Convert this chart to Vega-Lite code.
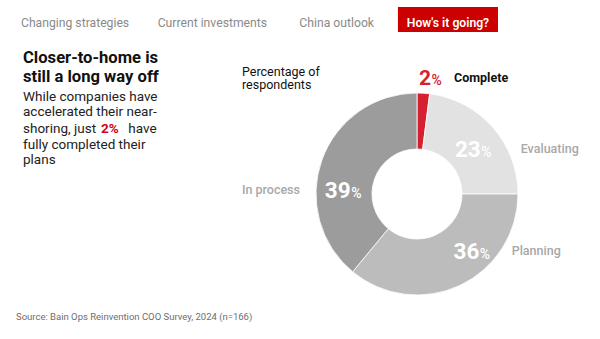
{
  "$schema": "https://vega.github.io/schema/vega-lite/v6.json",
  "background": "white",
  "padding": {"left": 0, "top": 7, "right": 0, "bottom": 0},
  "bounds": "flush",
  "spacing": 8,
  "config": {
    "view": {"stroke": null},
    "font": "Roboto",
    "text": {"font": "Roboto"},
    "title": {"font": "Roboto", "subtitleFont": "Roboto"}
  },
  "datasets": {
    "survey": [
      {"status": "Complete", "pct": 2},
      {"status": "Evaluating", "pct": 23},
      {"status": "Planning", "pct": 36},
      {"status": "In process", "pct": 39}
    ],
    "tabs": [
      {"tab": "Changing strategies", "active": false},
      {"tab": "Current investments", "active": false},
      {"tab": "China outlook", "active": false},
      {"tab": "How's it going?", "active": true}
    ]
  },
  "title": {
    "text": "Source: Bain Ops Reinvention COO Survey, 2024 (n=166)",
    "orient": "bottom", "anchor": "start", "frame": "bounds",
    "fontSize": 9.5, "fontWeight": "normal", "color": "#6e6e6e",
    "offset": 12, "dx": 16
  },
  "vconcat": [
    {
      "width": 600, "height": 25,
      "data": {"name": "tabs"},
      "encoding": {
        "x": {"field": "tab", "type": "nominal", "axis": null,
              "scale": {"type": "band", "domain": ["Changing strategies", "Current investments", "China outlook", "How's it going?"],
                        "paddingInner": 0.195, "paddingOuter": 0.511, "align": 0.197}}
      },
      "layer": [
        {"transform": [{"filter": "datum.active"}], "mark": {"type": "rect", "color": "#cc0000"}},
        {"transform": [{"filter": "datum.tab === 'Changing strategies'"}], "mark": {"type": "text", "fontSize": 12.2, "color": "#8a8a8a", "baseline": "middle", "dy": 3}, "encoding": {"text": {"field": "tab"}}},
        {"transform": [{"filter": "!datum.active && datum.tab !== 'Changing strategies'"}], "mark": {"type": "text", "fontSize": 12.2, "color": "#8a8a8a", "baseline": "middle", "dy": 3, "dx": 13}, "encoding": {"text": {"field": "tab"}}},
        {"transform": [{"filter": "datum.active"}], "mark": {"type": "text", "fontSize": 12.2, "fontWeight": 600, "color": "white", "baseline": "middle", "dy": 3}, "encoding": {"text": {"field": "tab"}}}
      ]
    },
    {
      "spacing": 0,
      "bounds": "flush",
      "hconcat": [
        {
          "width": 242, "height": 260,
          "title": {
            "text": ["Closer-to-home is", "still a long way off"],
            "subtitle": ["While companies have", "accelerated their near-"],
            "anchor": "start", "frame": "group", "orient": "top",
            "fontSize": 16.6, "fontWeight": "bold", "color": "#111111", "lineHeight": 19,
            "subtitleFontSize": 13.5, "subtitleColor": "#222222", "subtitleLineHeight": 15.6, "subtitlePadding": 4,
            "dx": 23, "offset": -79
          },
          "data": {"name": "survey"},
          "transform": [{"filter": "datum.status === 'Complete'"}],
          "layer": [
            {"mark": {"type": "text", "fontSize": 13.5, "color": "#222222", "align": "left", "baseline": "alphabetic", "dx": -98, "dy": -37},
             "encoding": {"text": {"value": "shoring, just"}}},
            {"mark": {"type": "text", "fontSize": 13.5, "fontWeight": "bold", "color": "#d0021b", "align": "left", "baseline": "alphabetic", "dx": -20, "dy": -37},
             "encoding": {"text": {"value": "2%"}}},
            {"mark": {"type": "text", "fontSize": 13.5, "color": "#222222", "align": "left", "baseline": "alphabetic", "dx": 7.3, "dy": -37},
             "encoding": {"text": {"value": "have"}}},
            {"mark": {"type": "text", "fontSize": 13.5, "color": "#222222", "align": "left", "baseline": "alphabetic", "lineHeight": 15.6, "dx": -98, "dy": -21.5},
             "encoding": {"text": {"value": ["fully completed their", "plans"]}}}
          ]
        },
        {
          "spacing": 0,
          "bounds": "flush",
          "vconcat": [
            {"width": 350, "height": 48, "data": {"values": []}, "mark": "text", "encoding": {}},
            {
              "width": 350, "height": 212,
              "title": {"text": ["Percentage of", "respondents"], "anchor": "start", "frame": "group", "fontSize": 12.5, "fontWeight": "normal", "color": "#111111", "lineHeight": 13, "offset": -23},
              "data": {"name": "survey"},
              "encoding": {
                "theta": {"field": "pct", "type": "quantitative", "stack": true},
                "order": {"field": "pct", "type": "quantitative", "sort": "ascending"}
              },
              "layer": [
                {"mark": {"type": "arc", "radius": 101, "innerRadius": 45, "stroke": "white", "strokeWidth": 0.8},
                 "encoding": {"color": {"field": "status", "type": "nominal", "legend": null,
                   "scale": {"domain": ["Complete", "Evaluating", "Planning", "In process"], "range": ["#d42030", "#e2e2e2", "#bcbcbc", "#9c9c9c"]}}}},
                {"mark": {"type": "text", "radius": 74, "dx": 8.2, "dy": 12.2, "align": "right", "baseline": "alphabetic", "fontSize": 22.5, "fontWeight": "bold", "color": "white"},
                 "encoding": {"text": {"condition": {"test": "datum.status === 'Evaluating'", "field": "pct", "type": "quantitative", "format": "d"}, "value": ""}}},
                {"mark": {"type": "text", "radius": 74, "dx": 8.7, "dy": 12.2, "align": "left", "baseline": "alphabetic", "fontSize": 14, "fontWeight": 500, "color": "white"},
                 "encoding": {"text": {"condition": {"test": "datum.status === 'Evaluating'", "value": "%"}, "value": ""}}},
                {"mark": {"type": "text", "radius": 74, "dx": 30.8, "dy": -1.7, "align": "right", "baseline": "alphabetic", "fontSize": 22.5, "fontWeight": "bold", "color": "white"},
                 "encoding": {"text": {"condition": {"test": "datum.status === 'Planning'", "field": "pct", "type": "quantitative", "format": "d"}, "value": ""}}},
                {"mark": {"type": "text", "radius": 74, "dx": 31.3, "dy": -1.7, "align": "left", "baseline": "alphabetic", "fontSize": 14, "fontWeight": 500, "color": "white"},
                 "encoding": {"text": {"condition": {"test": "datum.status === 'Planning'", "value": "%"}, "value": ""}}},
                {"mark": {"type": "text", "radius": 74, "dx": 3.3, "dy": 28.8, "align": "right", "baseline": "alphabetic", "fontSize": 22.5, "fontWeight": "bold", "color": "white"},
                 "encoding": {"text": {"condition": {"test": "datum.status === 'In process'", "field": "pct", "type": "quantitative", "format": "d"}, "value": ""}}},
                {"mark": {"type": "text", "radius": 74, "dx": 3.8, "dy": 28.8, "align": "left", "baseline": "alphabetic", "fontSize": 14, "fontWeight": 500, "color": "white"},
                 "encoding": {"text": {"condition": {"test": "datum.status === 'In process'", "value": "%"}, "value": ""}}},
                {"mark": {"type": "text", "radius": 110, "dx": 7.1, "dy": 0.8, "align": "right", "baseline": "alphabetic", "fontSize": 21, "fontWeight": "bold", "color": "#d42030"},
                 "encoding": {"text": {"condition": {"test": "datum.status === 'Complete'", "field": "pct", "type": "quantitative", "format": "d"}, "value": ""}}},
                {"mark": {"type": "text", "radius": 110, "dx": 7.6, "dy": 0.8, "align": "left", "baseline": "alphabetic", "fontSize": 14, "fontWeight": 500, "color": "#d42030"},
                 "encoding": {"text": {"condition": {"test": "datum.status === 'Complete'", "value": "%"}, "value": ""}}},
                {"mark": {"type": "text", "radius": 110, "dx": 30.1, "dy": -2.5, "align": "left", "baseline": "alphabetic", "fontSize": 12.5, "fontWeight": "bold", "color": "#111111"},
                 "encoding": {"text": {"condition": {"test": "datum.status === 'Complete'", "field": "status", "type": "nominal"}, "value": ""}}},
                {"mark": {"type": "text", "radius": 74, "dx": 48.2, "dy": 8.2, "align": "left", "baseline": "alphabetic", "fontSize": 12.5, "fontWeight": 500, "color": "#a8a8a8"},
                 "encoding": {"text": {"condition": {"test": "datum.status === 'Evaluating'", "field": "status", "type": "nominal"}, "value": ""}}},
                {"mark": {"type": "text", "radius": 74, "dx": 63.2, "dy": -6, "align": "left", "baseline": "alphabetic", "fontSize": 12.5, "fontWeight": 500, "color": "#a8a8a8"},
                 "encoding": {"text": {"condition": {"test": "datum.status === 'Planning'", "field": "status", "type": "nominal"}, "value": ""}}},
                {"mark": {"type": "text", "radius": 74, "dx": -47.4, "dy": 25.1, "align": "right", "baseline": "alphabetic", "fontSize": 12.5, "fontWeight": 500, "color": "#a8a8a8"},
                 "encoding": {"text": {"condition": {"test": "datum.status === 'In process'", "field": "status", "type": "nominal"}, "value": ""}}}
              ]
            }
          ]
        }
      ]
    }
  ]
}
